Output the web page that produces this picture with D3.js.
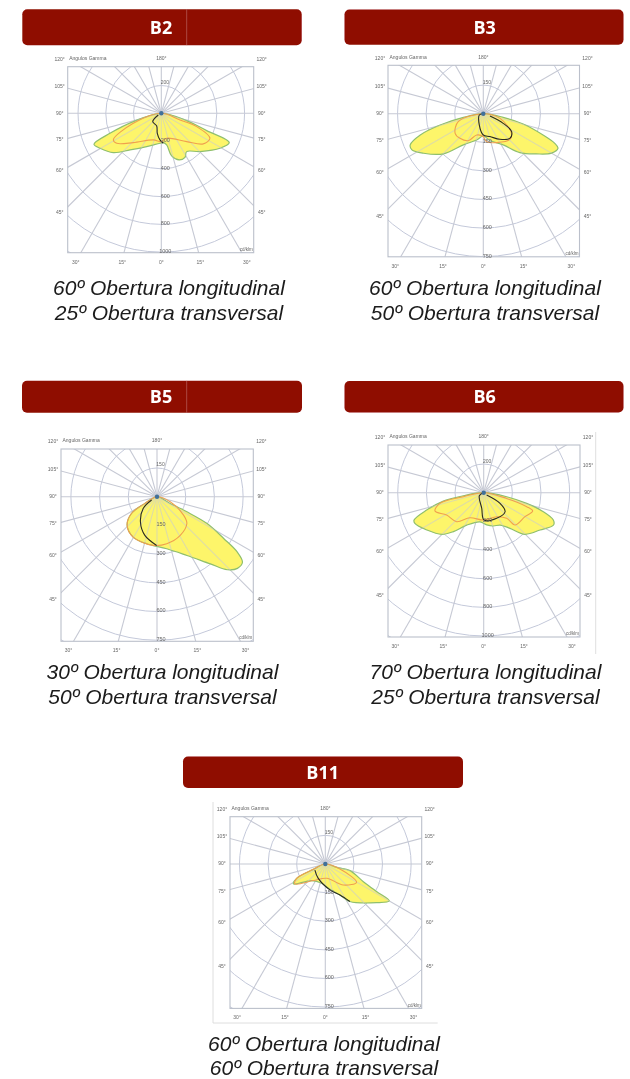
<!DOCTYPE html>
<html><head><meta charset="utf-8">
<style>html,body{margin:0;padding:0;background:#fff}svg{display:block}</style>
<script src="https://cdn.jsdelivr.net/npm/d3@7"></script></head><body>
<script>
// ---- text ----
const panelNames=["B2","B3","B5","B6","B11"];
const captionsLong=["60º Obertura longitudinal","60º Obertura longitudinal","30º Obertura longitudinal","70º Obertura longitudinal","60º Obertura longitudinal"];
const captionsTrans=["25º Obertura transversal","50º Obertura transversal","50º Obertura transversal","25º Obertura transversal","60º Obertura transversal"];
const ringStepCd=[200,150,150,200,150];
const ringLabelsTop=["200","150","150","200","150"];
const ringLabelsAxis=[["200","400","600","800","1000"],["150","300","450","600","750"],["150","300","450","600","750"],["200","400","600","800","1000"],["150","300","450","600","750"]];
const sideTicks=["120°","105°","90°","75°","60°","45°"];
const bottomTicks=["30°","15°","0°","15°","30°"];
const topTick="180°";
const gammaTitle="Angulos Gamma";
const unitLabel="cd/klm";
const rayAngles=d3.range(0,360,15);
// ---- series: gamma (deg, + = right) and cd ----
const b2YellowG=[180,73.9,69.1,66.7,59.2,45.3,33.5,28.3,21,13.6,9.6,3.9,-2.5,-23.7,-40.5,-50.7,-60.3,-65.3,-68.7,-73.4];
const b2YellowV=[0,190,350,533,492,392,331,360,360,316,231,212,216,262,347,447,508,534,397,210];
const b2OrangeG=[180,70.3,69.3,62.8,53.9,41.8,12,0,-16.7,-43.7,-56,-61,-70.3];
const b2OrangeV=[0,143,272,394,374,274,184,204,200,292,387,395,214];
const b2BlackG=[-61,-46,-20,-11.3,-2.9,3.8];
const b2BlackV=[25,86,97,147,192,216];
const b3YellowG=[180,79.6,75.5,70.4,67.5,65.2,59.9,52.9,43.2,32.6,13.9,0,-14.2,-32.6,-44.8,-56.5,-63.1,-66.9,-71.4,-75.3,-79.6];
const b3YellowV=[0,106,216,333,406,432,413,350,280,194,145,117,142,194,297,376,420,417,349,234,106];
const b3OrangeG=[180,74.4,55.2,46,24.7,6.8,0,-17.4,-29,-43.4,-55.2,-72.3];
const b3OrangeV=[0,91,180,194,167,148,120,117,162,178,180,138];
const b3BlackG=[180,-71.6,-19.4,0,16.2,33,47.2,57.6,64.2,70.7];
const b3BlackV=[0,22,63,112,125,160,190,176,116,37];
const b5YellowG=[180,62.9,63.2,61.8,57.9,55.4,52.5,48.3,43.9,38.5,27,10.6,-12.5,-30.6,-46.3,-56.7,-61,-66.4];
const b5YellowV=[0,77,175,297,413,510,563,563,530,449,345,277,252,245,216,160,72,31];
const b5OrangeG=[180,69,55.2,48,31,11.7,-4.3,-30.6,-46.3,-56.7,-61];
const b5OrangeV=[0,74,169,210,236,251,255,245,216,160,72];
const b5BlackG=[-58,-49.5,-33.2,-17.4,-0.4];
const b5BlackV=[33,95,158,212,255];
const b6YellowG=[180,80.1,76,72.3,68.6,65.2,56.5,44.8,36.4,26.8,16.2,5.3,-7.2,-27.7,-37.9,-45.2,-56.8,-65.9,-68.6,-73.1,-78.3,-81.6];
const b6YellowV=[0,163,309,437,522,537,472,409,309,253,242,226,205,256,344,413,475,526,522,416,288,144];
const b6OrangeG=[180,76,72,69.5,59.9,44.1,41.9,28.4,-0.7,-28.7,-43,-58.9,-69.4,-76.3,-78.9];
const b6OrangeV=[0,165,316,365,333,314,240,191,191,199,277,302,363,314,144];
const b6BlackG=[180,-55.3,-7.3,0.7,26.9,48.3,56.9,52];
const b6BlackV=[0,37,109,191,200,200,136,26];
const b11YellowG=[180,73.6,74.9,65.1,61.7,60,53,33.2,25.3,10.4,-10.7,-39.4,-58,-63.4,-66];
const b11YellowV=[0,62,134,220,305,387,337,235,180,135,103,113,197,168,69];
const b11OrangeG=[180,71,59.7,40.6,5.3,-35.8,-56.6,-63.4,-66];
const b11OrangeV=[0,81,190,145,75,107,190,168,69];
const b11BlackG=[-59.9,-26,10.2,25.3,33.2];
const b11BlackV=[63,84,138,180,235];
const yellowG=[b2YellowG,b3YellowG,b5YellowG,b6YellowG,b11YellowG];
const yellowV=[b2YellowV,b3YellowV,b5YellowV,b6YellowV,b11YellowV];
const orangeG=[b2OrangeG,b3OrangeG,b5OrangeG,b6OrangeG,b11OrangeG];
const orangeV=[b2OrangeV,b3OrangeV,b5OrangeV,b6OrangeV,b11OrangeV];
const blackG=[b2BlackG,b3BlackG,b5BlackG,b6BlackG,b11BlackG];
const blackV=[b2BlackV,b3BlackV,b5BlackV,b6BlackV,b11BlackV];
// ---- layout ----
const layout=[
 {bx:22.3,by:9.3,bw:279.4,bh:36,tx:161,ty:33.5,seam:186.7,fx:67.7,fy:66.7,fw:186,cx:161.3,cy:113.3,capx:169,cap1:294.5,cap2:319.5},
 {bx:344.5,by:9.5,bw:279,bh:35.2,tx:484.7,ty:33.5,fx:388,fy:65.3,fw:191.5,cx:483.3,cy:113.7,capx:485,cap1:294.5,cap2:319.5},
 {bx:22,by:380.7,bw:280,bh:32,tx:161,ty:403,seam:186.7,fx:61,fy:449,fw:192.3,cx:157,cy:496.7,capx:162.5,cap1:679,cap2:703.5},
 {bx:344.5,by:381,bw:279,bh:31.5,tx:484.7,ty:403,fx:388,fy:445,fw:192,cx:483.7,cy:492.7,capx:485.5,cap1:679,cap2:703.5},
 {bx:183,by:756.5,bw:280,bh:31.5,tx:322.7,ty:778.5,fx:230,fy:816.7,fw:191.7,cx:325.3,cy:864,capx:324,cap1:1050.5,cap2:1074.5}
];
const svg=d3.select("body").append("svg").attr("width",630).attr("height",1079);
const defs=svg.append("defs");
[["soft",0.6],["softText",0.35]].forEach(([id,s])=>defs.append("filter").attr("id",id).attr("x","-5%").attr("y","-5%").attr("width","110%").attr("height","110%")
  .append("feGaussianBlur").attr("stdDeviation",s));
const root=svg.append("g");
const smallFont="'Liberation Sans',Arial,sans-serif";
layout.forEach((L,i)=>{
  const t0=root.append("g").attr("filter","url(#softText)");
  const g=root.append("g").attr("filter","url(#soft)");
  // banner
  t0.append("rect").attr("x",L.bx).attr("y",L.by).attr("width",L.bw).attr("height",L.bh).attr("rx",5).attr("fill","#8f0a00");
  if(L.seam) t0.append("line").attr("x1",L.seam).attr("x2",L.seam).attr("y1",L.by).attr("y2",L.by+L.bh).attr("stroke","#c98a85").attr("stroke-width",.5);
  t0.append("text").attr("x",L.tx).attr("y",L.ty).attr("text-anchor","middle").attr("font-family","'Open Sans',sans-serif")
    .attr("font-weight",700).attr("font-size",18).attr("fill","#fff").text(panelNames[i]);
  // polar frame
  const step=L.fw/6.7, H=L.fw/2;
  const r=d3.scaleLinear().domain([0,ringStepCd[i]*5]).range([0,step*5]);
  const clipId="clip"+i;
  defs.append("clipPath").attr("id",clipId).append("rect").attr("x",L.fx).attr("y",L.fy).attr("width",L.fw).attr("height",L.fw);
  const plot=g.append("g").attr("clip-path",`url(#${clipId})`);
  const center=plot.append("g").attr("transform",`translate(${L.cx},${L.cy})`);
  center.selectAll("circle.ring").data(d3.range(1,7)).join("circle").attr("class","ring")
    .attr("r",d=>r(d*ringStepCd[i])).attr("fill","none").attr("stroke","#c4c9da").attr("stroke-width",1);
  const rayEnd=a=>({x:Math.sin(a*Math.PI/180)*L.fw*1.5,y:Math.cos(a*Math.PI/180)*L.fw*1.5});
  const drawRays=sel=>sel.selectAll("line.ray").data(rayAngles).join("line").attr("class","ray")
    .attr("x1",0).attr("y1",0).attr("x2",d=>rayEnd(d).x).attr("y2",d=>rayEnd(d).y)
    .attr("stroke","#c6c9d4").attr("stroke-width",1.1);
  drawRays(center);
  // curves
  const closed=d3.lineRadial().angle(d=>(180-d[0])*Math.PI/180).radius(d=>r(d[1])).curve(d3.curveCatmullRomClosed.alpha(0.5));
  const open=d3.lineRadial().angle(d=>(180-d[0])*Math.PI/180).radius(d=>r(d[1])).curve(d3.curveCatmullRom.alpha(0.5));
  const yPts=d3.zip(yellowG[i],yellowV[i]);
  const oPts=d3.zip(orangeG[i],orangeV[i]);
  const kPts=d3.zip(blackG[i],blackV[i]);
  center.append("path").attr("d",closed(yPts)).attr("fill","#fdf56b").attr("stroke","#8fbf6e").attr("stroke-width",1.2);
  // rays visible over the fill
  const overlayClip="fillclip"+i;
  defs.append("clipPath").attr("id",overlayClip).append("path").attr("d",closed(yPts));
  center.append("g").attr("clip-path",`url(#${overlayClip})`).attr("opacity",.55).call(drawRays);
  center.append("path").attr("d",closed(oPts)).attr("fill","none").attr("stroke","#f0a04e").attr("stroke-width",1.1);
  center.append("path").attr("d",open(kPts)).attr("fill","none").attr("stroke","#2a2a20").attr("stroke-width",1.1);
  center.append("circle").attr("r",2.2).attr("fill","#3f6f9a");
  // frame
  g.append("rect").attr("x",L.fx).attr("y",L.fy).attr("width",L.fw).attr("height",L.fw).attr("fill","none").attr("stroke","#bbc0cb").attr("stroke-width",1.1);
  // tick text
  const txt=(x,y,s,anc,sz)=>g.append("text").attr("x",x).attr("y",y).attr("text-anchor",anc||"middle").attr("dominant-baseline","middle")
    .attr("font-family",smallFont).attr("font-size",sz||5).attr("fill","#666").text(s);
  const sideFrac=[-.58,-.29,0,.29,.625,1.09];
  sideTicks.forEach((t,k)=>{const y=L.cy+sideFrac[k]*H*.985;
    txt(L.fx-8,y,t); txt(L.fx+L.fw+8,y,t);});
  const botFrac=[-.92,-.42,0,.42,.92];
  bottomTicks.forEach((t,k)=>txt(L.cx+botFrac[k]*H,L.fy+L.fw+9.5,t));
  txt(L.cx,L.fy-8,topTick);
  g.append("text").attr("x",L.fx+1.5).attr("y",L.fy-8).attr("dominant-baseline","middle").attr("font-family",smallFont).attr("font-size",5).attr("fill","#666").text(gammaTitle);
  txt(L.fx+L.fw-1,L.fy+L.fw-3,unitLabel,"end",4.5);
  txt(L.cx+3.5,L.cy-step*1.1,ringLabelsTop[i]);
  ringLabelsAxis[i].forEach((t,k)=>txt(L.cx+4,L.cy+r((k+1)*ringStepCd[i])-.5,t,"middle",5.5));
  // captions
  [[captionsLong[i],L.cap1],[captionsTrans[i],L.cap2]].forEach(([s,y])=>
    t0.append("text").attr("x",L.capx).attr("y",y).attr("text-anchor","middle").attr("font-family","'Liberation Sans',Arial,sans-serif")
     .attr("font-style","italic").attr("font-size",21).attr("fill","#1a1a1a").text(s));
});
// scan edge lines
root.append("line").attr("x1",595.7).attr("x2",595.7).attr("y1",432).attr("y2",654).attr("stroke","#d5d5d5").attr("stroke-width",.8);
root.append("path").attr("d","M213,802V1023H437.7").attr("fill","none").attr("stroke","#d5d5d5").attr("stroke-width",.8);
</script></body></html>
